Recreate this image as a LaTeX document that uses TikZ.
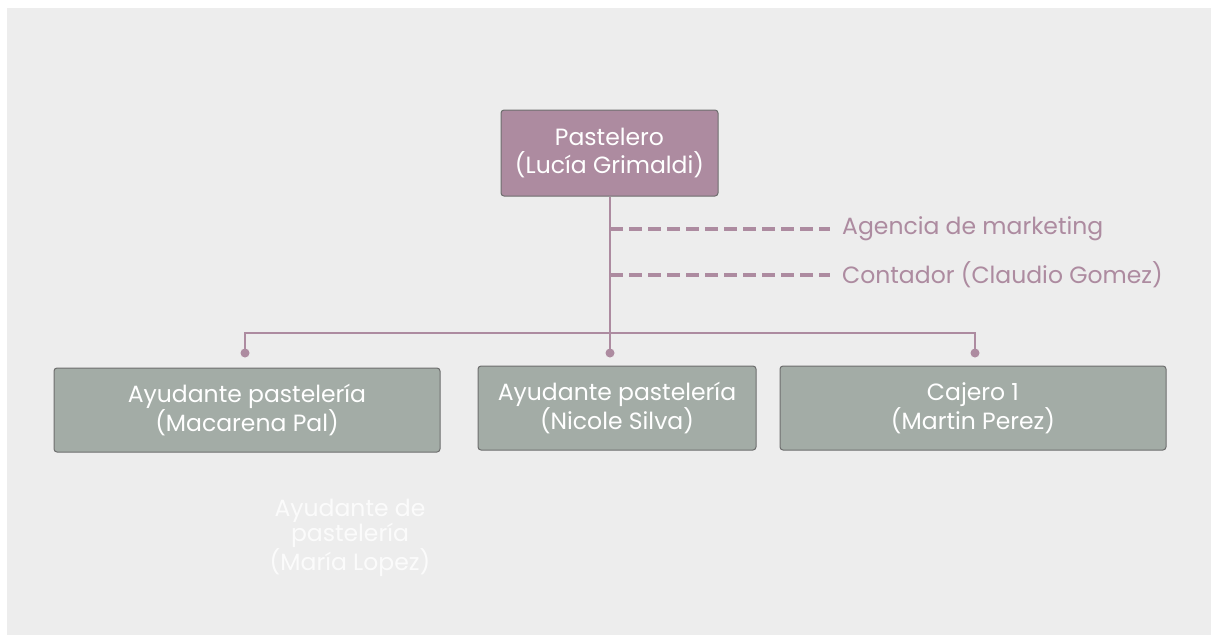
\documentclass[tikz,border=0pt]{standalone}
\usepackage{fontspec}
\setmainfont{Poppins}
\definecolor{bgc}{HTML}{EDEDED}
\definecolor{mauve}{HTML}{AD8BA0}
\definecolor{sage}{HTML}{A3ACA6}
\definecolor{edge}{HTML}{6E6E6E}
\begin{document}
\begin{tikzpicture}[x=1pt,y=-1pt,
  box/.style={draw=edge, line width=1pt, rounded corners=3pt, text=white, align=center,
    font=\fontsize{23.5}{22}\selectfont, inner sep=0pt},
  link/.style={draw=mauve, line width=2pt},
  dlink/.style={draw=mauve, line width=3.5pt, dash pattern=on 13pt off 6pt},
  lbl/.style={text=mauve, anchor=west, font=\fontsize{23.5}{24}\selectfont, inner sep=0pt},
  dotend/.style={fill=mauve, draw=none}]
\useasboundingbox (0,0) rectangle (1211,635);
\fill[white] (0,0) rectangle (1211,635);
\fill[bgc] (7,8) rectangle (1211,635);

\node[box, fill=mauve, minimum width=217pt, minimum height=86pt, font=\fontsize{23.5}{28}\selectfont] (top) at (609.5,153) {Pastelero\\(Lucía Grimaldi)};

\node[box, fill=sage, minimum width=386pt, minimum height=84pt] (b1) at (247,410) {Ayudante pastelería\\(Macarena Pal)};
\node[box, fill=sage, minimum width=278pt, minimum height=84pt] (b2) at (617,408) {Ayudante pastelería\\(Nicole Silva)};
\node[box, fill=sage, minimum width=386pt, minimum height=84pt] (b3) at (973,408) {Cajero 1\\(Martin Perez)};

\coordinate (j) at (610,333);
\coordinate (d1) at (245,353);
\coordinate (d2) at (610,353);
\coordinate (d3) at (975,353);
\coordinate (h1) at (610,229);
\coordinate (h2) at (610,275);

\node[lbl] (m) at (842,229) {Agencia de marketing};
\node[lbl] (c) at (842,275) {Contador (Claudio Gomez)};

\draw[link] (top.south -| j) -- (d2);
\draw[link] (d1) -- (d1 |- j) -- (d3 |- j) -- (d3);
\draw[dlink] (h1) -- ([xshift=-12pt]m.west);
\draw[dlink] (h2) -- ([xshift=-12pt]c.west);
\fill[dotend] (d1) circle (4.5pt) (d2) circle (4.5pt) (d3) circle (4.5pt);

\node[text=white, text opacity=0.8, align=center, font=\fontsize{23.5}{25}\selectfont] (ml) at (350,538) {Ayudante de\\pastelería\\(María Lopez)};
\end{tikzpicture}
\end{document}
